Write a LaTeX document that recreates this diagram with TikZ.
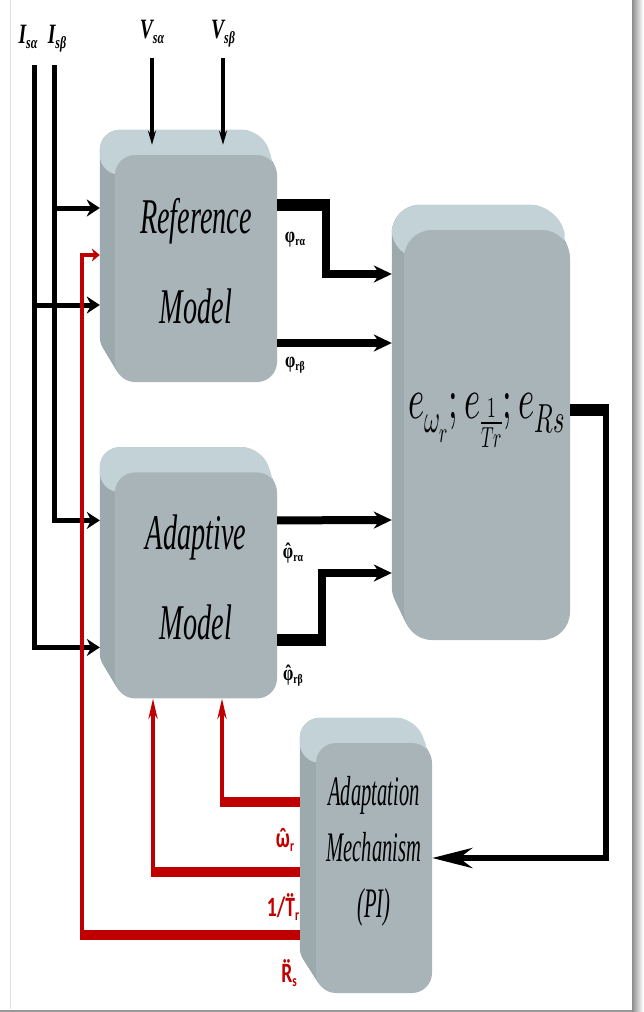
\documentclass[tikz,border=0pt]{standalone}
\usepackage{graphicx}
\usepackage{fontspec}
\usepackage{unicode-math}
\setmainfont{Liberation Serif}
\newfontfamily\calfont{Carlito}
\usetikzlibrary{positioning, arrows.meta, backgrounds}

\definecolor{frontface}{HTML}{A8B4B8}
\definecolor{topface}{HTML}{C3D2D7}
\definecolor{sideface}{HTML}{9CA9AD}
\definecolor{fbred}{HTML}{C00000}

% horizontally condensed text
\newcommand{\sq}[2][0.6]{\scalebox{#1}[1]{#2}}
% raised back part of a block: node, dx, dy, radius
\newcommand{\blockdepth}[4]{%
  \foreach \dd in {0.1,0.2,...,1}
    \fill[sideface, rounded corners=#4] ([shift={(-\dd*#2,-\dd*#3)}]#1.north west) rectangle ([shift={(-\dd*#2,-\dd*#3)}]#1.south east);
  \fill[topface, rounded corners=#4] ([shift={(-#2,-#3)}]#1.north west) -- ([shift={(-#2,-#3)}]#1.north east) -- ([yshift=-#4]#1.north east) -- ([shift={(-#2,0)},yshift=-#4]#1.north west) -- cycle;
}

\begin{document}
\begin{tikzpicture}[
  x=1pt, y=-1pt,
  block/.style={
    fill=frontface,
    rounded corners=20pt,
    inner sep=0pt,
    align=center,
    font=\fontsize{50}{90}\selectfont\itshape
  },
  isline/.style={line width=5pt, -{Stealth[length=13pt,width=17pt]}},
  vin/.style={line width=3.5pt, -{Stealth[length=14pt,width=8pt]}},
  bus/.style={line width=12pt},
  flow/.style={line width=8pt, -{Stealth[length=18pt,width=17pt]}},
  errline/.style={line width=6pt, -{Stealth[length=40pt,width=20pt]}},
  fbbus/.style={draw=fbred, line width=10pt},
  fb/.style={draw=fbred, line width=4.5pt, -{Stealth[length=20pt,width=9pt]}},
  fbin/.style={draw=fbred, line width=4.5pt, -{Stealth[length=8pt,width=13pt]}},
  lab/.style={inner sep=0pt, font=\bfseries\fontsize{22}{22}\selectfont},
  fblab/.style={inner sep=0pt, text=fbred, font=\calfont\bfseries\fontsize{28}{28}\selectfont},
  inlab/.style={inner sep=0pt, anchor=base, font=\bfseries\itshape\fontsize{28}{28}\selectfont},
  node distance=90pt
]
\useasboundingbox (0,0) rectangle (643,1012);

% Page
\shade[left color=black!45, right color=white] (632,0) rectangle (643,1012);
\fill[black!40] (0,1009.5) rectangle (632,1012);
\draw[black!12, line width=1pt] (10,0) -- (10,1009);

% Reference model
\node[block, minimum width=162pt, minimum height=227pt, text depth=15pt] (ref) at (196,268.5)
  {\sq[0.565]{Reference}\\\sq[0.565]{Model}};

% Adaptive model
\node[block, minimum width=162pt, minimum height=226pt, text depth=16pt, below=of ref] (adp)
  {\sq[0.565]{Adaptive}\\\sq[0.565]{Model}};

% Error block
\node[block, rounded corners=28pt, minimum width=166pt, minimum height=410pt,
  font=\fontsize{58}{60}\selectfont] (err) at (487,435)
  {\raisebox{17pt}[0pt][0pt]{\sq[0.6]{$e_{\omega_r};e_{\frac{1}{Tr}};e_{Rs}$}}};

% Adaptation mechanism
\node[block, minimum width=116pt, minimum height=250pt, text depth=42pt,
  font=\fontsize{42}{56}\selectfont\itshape] (mech) at (374,868)
  {\sq[0.49]{Adaptation}\\\sq[0.49]{Mechanism}\\\sq[0.49]{(PI)}};

\begin{scope}[on background layer]
  \blockdepth{ref}{15}{25}{20pt}
  \blockdepth{adp}{15}{25}{20pt}
  \blockdepth{err}{12}{25}{28pt}
  \blockdepth{mech}{16}{25}{20pt}
\end{scope}

% Inputs
\node[inlab] (isa) at (28,43) {\sq[0.7]{I\raisebox{-5pt}{\fontsize{17}{17}\selectfont sα}}};
\node[inlab] (isb) at (57,43) {\sq[0.7]{I\raisebox{-5pt}{\fontsize{17}{17}\selectfont sβ}}};
\node[inlab] (vsa) at (152,38) {\sq[0.7]{V\raisebox{-5pt}{\fontsize{17}{17}\selectfont sα}}};
\node[inlab] (vsb) at (223,38) {\sq[0.7]{V\raisebox{-5pt}{\fontsize{17}{17}\selectfont sβ}}};

\coordinate (isaTop) at (34,65);
\coordinate (isbTop) at (54,65);
\coordinate (refInB) at ([xshift=-15pt,yshift=60.5pt]ref.west);
\coordinate (refInA) at ([xshift=-15pt,yshift=-36.5pt]ref.west);
\coordinate (refInFb) at ([xshift=-15pt,yshift=13.5pt]ref.west);
\coordinate (adpInB) at ([xshift=-15pt,yshift=65pt]adp.west);
\coordinate (adpInA) at ([xshift=-15pt,yshift=-62pt]adp.west);

\draw[isline] (isbTop) |- (adpInB);
\draw[isline] (isbTop |- refInB) -- (refInB);
\draw[isline] (isaTop) |- (adpInA);
\draw[isline] (isaTop |- refInA) -- (refInA);

\draw[vin] ([yshift=-20pt]vsa.base) -- ([xshift=-44pt,yshift=10pt]ref.north);
\draw[vin] ([yshift=-20pt]vsb.base) -- ([xshift=27pt,yshift=10pt]ref.north);

% Fluxes
\node[lab] (fra) at (295,240) {\sq[0.75]{φ\raisebox{-3pt}{\fontsize{13}{13}\selectfont rα}}};
\node[lab] (frb) at (295,365) {\sq[0.75]{φ\raisebox{-3pt}{\fontsize{13}{13}\selectfont rβ}}};
\node[lab] (hfra) at (293,553) {\sq[0.75]{\accent"02C6 φ\raisebox{-3pt}{\fontsize{13}{13}\selectfont rα}}};
\node[lab] (hfrb) at (293,676) {\sq[0.75]{\accent"02C6 φ\raisebox{-3pt}{\fontsize{13}{13}\selectfont rβ}}};

\draw[bus, shorten >=-4pt] ([yshift=63.5pt]ref.east) -- ++(49,0) coordinate (raBend);
\draw[flow] (raBend) |- ([xshift=-12pt,yshift=161pt]err.west);
\draw[flow] ([yshift=-74.5pt]ref.east) -- ([xshift=-12pt,yshift=92pt]err.west);
\draw[flow] ([yshift=65pt]adp.east) -- ([xshift=-12pt,yshift=-85pt]err.west);
\draw[bus, shorten >=-4pt] ([yshift=-55pt]adp.east) -- ++(45,0) coordinate (rbBend);
\draw[flow] (rbBend) |- ([xshift=-12pt,yshift=-138pt]err.west);

% Error to adaptation
\draw[bus, shorten >=-3pt] ([yshift=25pt]err.east) -- ++(36,0) coordinate (errBend);
\draw[errline] (errBend) |- ([yshift=10pt]mech.east);

% Feedback
\node[fblab] (wLab) at (285,840) {\sq[0.7]{\accent"02C6 ω\raisebox{-4pt}{\fontsize{16}{16}\selectfont r}}};
\node[fblab] (tLab) at (283,907) {\sq[0.7]{1/\accent"00A8 T\raisebox{-4pt}{\fontsize{16}{16}\selectfont r}}};
\node[fblab] (rLab) at (289,973) {\sq[0.7]{\accent"00A8 R\raisebox{-4pt}{\fontsize{16}{16}\selectfont s}}};

\coordinate (mechOutA) at ([xshift=-16pt,yshift=66pt]mech.west);
\coordinate (mechOutB) at ([xshift=-16pt,yshift=-4pt]mech.west);
\coordinate (mechOutC) at ([xshift=-16pt,yshift=-67pt]mech.west);
\coordinate (adpFbA) at ([xshift=26pt]adp.south);
\coordinate (adpFbB) at ([xshift=-43pt]adp.south);
\coordinate (refFbX) at ([xshift=-33pt]ref.west);
\coordinate (fbA) at (adpFbA |- mechOutA);
\coordinate (fbB) at (adpFbB |- mechOutB);
\coordinate (fbC) at (refFbX |- mechOutC);

\draw[fbbus, shorten >=-2pt] (mechOutA) -- (fbA);
\draw[fb] (fbA) -- (adpFbA);
\draw[fbbus, shorten >=-2pt] (mechOutB) -- (fbB);
\draw[fb] (fbB) -- (adpFbB);
\draw[fbbus, shorten >=-2pt] (mechOutC) -- (fbC);
\draw[fbin] (fbC) |- (refInFb);

\end{tikzpicture}
\end{document}
